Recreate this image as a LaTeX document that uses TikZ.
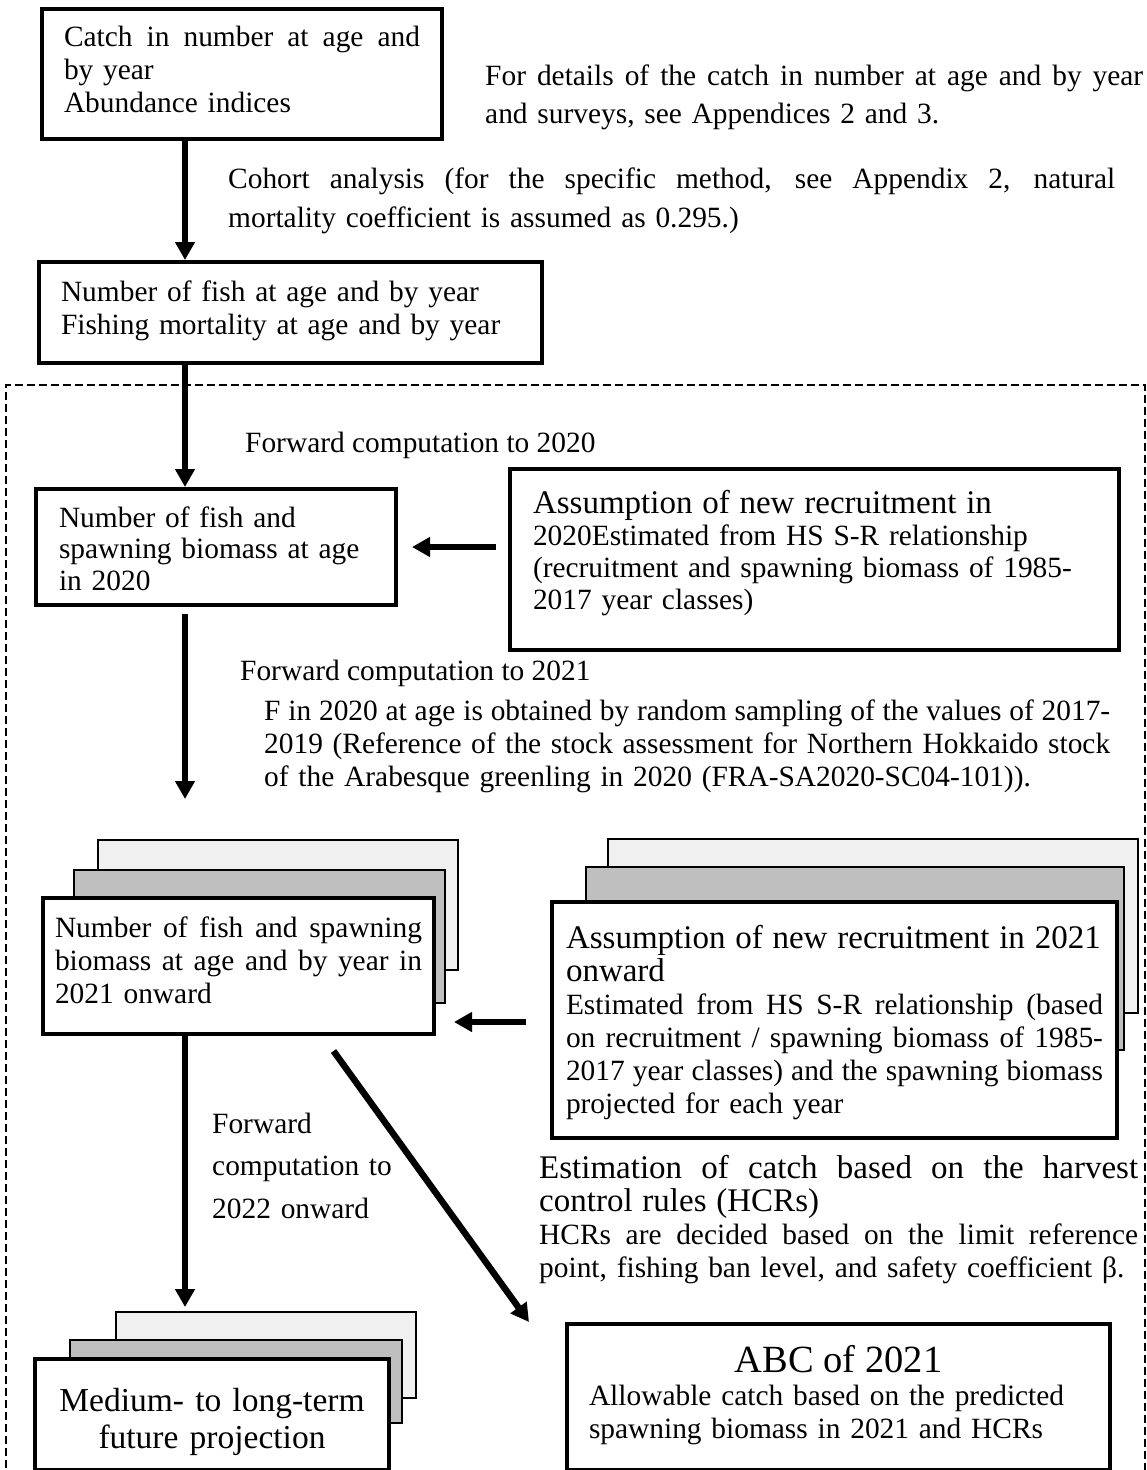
\documentclass[tikz,border=0pt]{standalone}
\usepackage{fontspec}
\setmainfont{Liberation Serif}
\usepackage{tikz}
\usetikzlibrary{arrows.meta,calc}
\definecolor{backgray}{gray}{0.94}
\definecolor{midgray}{gray}{0.75}
\newcommand{\bodyfont}{\fontsize{29.4}{33}\selectfont}
\newcommand{\headfont}{\fontsize{33}{35}\selectfont}
\newcommand{\abcfont}{\fontsize{38.5}{40}\selectfont}
\newcommand{\justline}[1]{\makebox[\hsize][s]{\spaceskip=.25em plus .8em minus .07em\relax #1}}
\tikzstyle{box}=[draw,line width=4pt,fill=white,inner ysep=0pt,align=left,font=\bodyfont,anchor=north west]
\tikzstyle{sheet}=[draw,line width=1.5pt]
\tikzstyle{flow}=[draw,line width=6.5pt,-{Triangle[length=18pt,width=19pt]}]
\tikzstyle{note}=[inner sep=0pt,align=left,font=\bodyfont,anchor=base west]
\tikzstyle{dashframe}=[draw,line width=2.8pt,dash pattern=on 8pt off 4pt]

\begin{document}
\begin{tikzpicture}[x=1pt,y=-1pt]
      \useasboundingbox (0,0) rectangle (1147,1470);
      % projection part
      \draw[dashframe] (6,1480) -- (6,385) -- (1145,385) -- (1145,1480);
      % sheets behind the stacked boxes
      \foreach \xa/\ya/\xb/\yb/\tone in {98/840/458/970/backgray,74/870/445/1003/midgray,
        608/839/1138/1013/backgray,586/867/1124/1050/midgray,
        116/1312/416/1398/backgray,70/1340/402/1423/midgray}{
        \draw[sheet,fill=\tone] (\xa,\ya) rectangle (\xb,\yb);
      }
      \node[box,text width=356pt,inner xsep=22pt,text height=37pt,text depth=93pt] (catch) at (40,7)
        {\justline{Catch in number at age and}\\by year\\Abundance indices};
      \node[box,text width=459pt,inner xsep=22pt,text height=39pt,text depth=62pt] (fishnum) at (37,260)
        {Number of fish at age and by year\\Fishing mortality at age and by year};
      \node[box,text width=314pt,inner xsep=23pt,text height=38pt,text depth=78pt,
        font={\fontsize{29.4}{31.5}\selectfont}] (n2020) at (34,487)
        {Number of fish and\\spawning biomass at age\\in 2020};
      \node[box,text width=563pt,inner xsep=23pt,text height=44pt,text depth=137pt,
        font={\fontsize{29.4}{32}\selectfont}] (a2020) at (508,467)
        {{\headfont Assumption of new recruitment in}\\2020Estimated from HS S-R relationship\\
         (recruitment and spawning biomass of 1985-\\2017 year classes)};
      \node[box,text width=367pt,inner xsep=12pt,text height=39pt,text depth=97pt] (n2021) at (41,896)
        {\justline{Number of fish and spawning}\\\justline{biomass at age and by year in}\\2021 onward};
      \node[box,text width=537pt,inner xsep=14pt,text height=46pt,text depth=190pt] (a2021) at (550,900)
        {{\headfont Assumption of new recruitment in 2021}\\{\headfont onward}\\
         \justline{Estimated from HS S-R relationship (based}\\
         \justline{on recruitment / spawning biomass of 1985-}\\
         \justline{2017 year classes) and the spawning biomass}\\projected for each year};
      \node[box,text width=320pt,inner xsep=17pt,text height=52pt,text depth=59pt,align=center,
        font={\fontsize{33.5}{37}\selectfont}] (proj) at (33,1357)
        {Medium- to long-term\\future projection};
      \node[box,text width=499pt,inner xsep=22pt,text height=48pt,text depth=98pt] (abc) at (565,1322)
        {\makebox[\hsize]{\abcfont ABC of 2021}\\Allowable catch based on the predicted\\
         spawning biomass in 2021 and HCRs};

      % notes
      \node[note,text width=658pt,font={\fontsize{29.4}{38}\selectfont}] (details) at (485,85)
        {\justline{For details of the catch in number at age and by year}\\and surveys, see Appendices 2 and 3.};
      \node[note,text width=887pt,font={\fontsize{29.4}{39}\selectfont}] (cohort) at (228,188)
        {\justline{Cohort analysis (for the specific method, see Appendix 2, natural}\\
         mortality coefficient is assumed as 0.295.)};
      \node[note] (fwd20) at (245,452) {Forward computation to 2020};
      \node[note] (fwd21) at (240,680) {Forward computation to 2021};
      \node[note,text width=846pt] (fsample) at (264,720)
        {\justline{F in 2020 at age is obtained by random sampling of the values of 2017-}\\
         \justline{2019 (Reference of the stock assessment for Northern Hokkaido stock}\\
         of the Arabesque greenling in 2020 (FRA-SA2020-SC04-101)).};
      \node[note,text width=200pt,font={\fontsize{29.4}{42.5}\selectfont}] (fwd22) at (212,1133)
        {Forward\\computation to\\2022 onward};
      \node[note,text width=599pt] (hcr) at (539,1178)
        {{\headfont\justline{Estimation of catch based on the harvest}\\control rules (HCRs)}\\
         \justline{HCRs are decided based on the limit reference}\\
         point, fishing ban level, and safety coefficient β.};

      % connectors
      \coordinate (trunk) at (185,0);
      \coordinate (tip2021) at (185,799);
      \coordinate (recruit) at (0,1022);
      \draw[flow] (catch.south -| trunk) -- (fishnum.north -| trunk);
      \draw[flow] (fishnum.south -| trunk) -- (n2020.north -| trunk);
      \draw[flow,shorten <=12pt,shorten >=14pt] (n2020.east -| a2020.west) -- (n2020.east);
      \draw[flow,shorten <=7pt] (n2020.south -| trunk) -- (tip2021);
      \draw[flow,shorten <=24pt,shorten >=18pt] (a2021.west |- recruit) -- (n2021.east |- recruit);
      \draw[flow,shorten >=50pt] (n2021.south -| trunk) -- (proj.north -| trunk);
      \draw[flow] ($(n2021.south)+(95,15)$) -- ($(abc.north west)+(-36,0)$);

\end{tikzpicture}
\end{document}
